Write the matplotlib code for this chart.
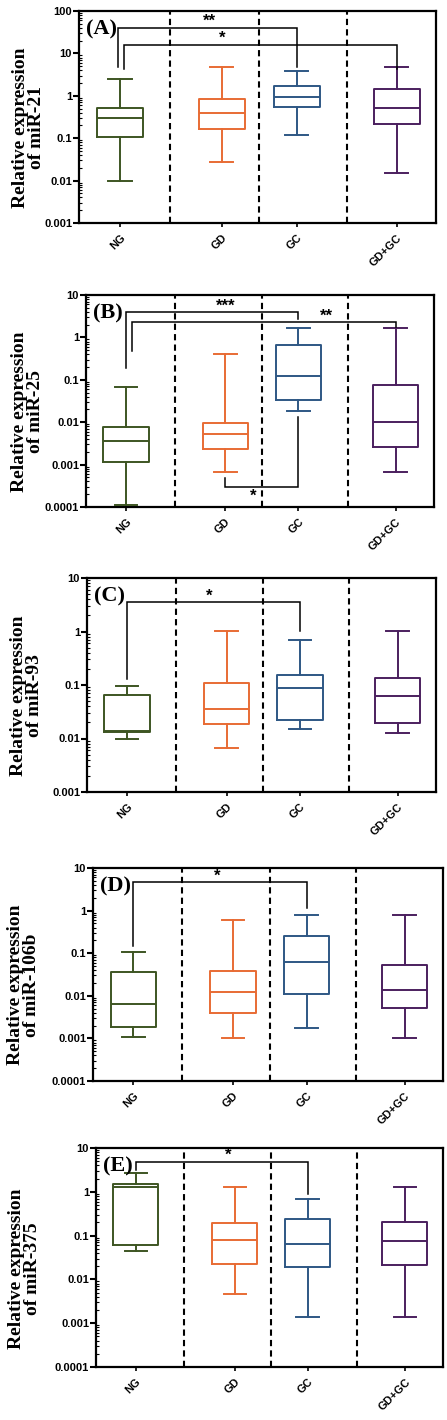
"""
Relative expression of five miRNAs across NG / GD / GC / GD+GC groups.
"""

import matplotlib
matplotlib.use("Agg")
import matplotlib.pyplot as plt
from matplotlib.ticker import FuncFormatter, LogLocator, NullFormatter


groups = ["NG", "GD", "GC", "GD+GC"]
colors = ["#3d5522", "#e86b34", "#2e5784", "#4b1f5e"]

mirnas = ["miR-21", "miR-25", "miR-93", "miR-106b", "miR-375"]
panel_tags = ["(A)", "(B)", "(C)", "(D)", "(E)"]

# five-number summaries per group: [whisker low, Q1, median, Q3, whisker high]
mir21 = [
    [0.010, 0.109, 0.30, 0.52, 2.43],
    [0.028, 0.163, 0.40, 0.82, 4.77],
    [0.120, 0.550, 0.96, 1.66, 3.90],
    [0.0148, 0.220, 0.52, 1.44, 4.77],
]
mir25 = [
    [0.00011, 0.00113, 0.0036, 0.0079, 0.067],
    [0.00067, 0.0023, 0.0053, 0.0098, 0.40],
    [0.018, 0.033, 0.126, 0.65, 1.63],
    [0.00067, 0.0026, 0.010, 0.075, 1.63],
]
mir93 = [
    [0.010, 0.013, 0.0136, 0.064, 0.094],
    [0.0067, 0.0183, 0.035, 0.107, 1.03],
    [0.0148, 0.0225, 0.087, 0.156, 0.69],
    [0.0126, 0.0194, 0.062, 0.137, 1.03],
]
mir106b = [
    [0.00105, 0.0019, 0.0063, 0.037, 0.107],
    [0.0010, 0.0040, 0.012, 0.039, 0.60],
    [0.0018, 0.011, 0.061, 0.26, 0.79],
    [0.0010, 0.0051, 0.0138, 0.053, 0.79],
]
mir375 = [
    [0.045, 0.060, 1.26, 1.52, 2.72],
    [0.0046, 0.022, 0.080, 0.19, 1.32],
    [0.00135, 0.019, 0.066, 0.236, 0.67],
    [0.00135, 0.021, 0.074, 0.20, 1.32],
]
all_stats = [mir21, mir25, mir93, mir106b, mir375]

y_limits = [(0.001, 100), (0.0001, 10), (0.001, 10), (0.0001, 10), (0.0001, 10)]

# significance brackets: (group a, group b, bar y, left leg end, right leg end, label, label x)
brackets = [
    [(0, 2, 40.0, 4.8, 4.8, "**", 3.65), (0, 3, 16.0, 4.4, 4.4, "*", 4.0)],
    [(0, 2, 3.9, 0.19, 2.7, "***", 4.0), (0, 3, 2.26, 0.48, 1.8, "**", 6.9),
     (1, 2, 0.00029, 0.00049, 0.0136, "*", 4.8)],
    [(0, 2, 3.5, 0.13, 1.04, "*", 3.5)],
    [(0, 2, 4.6, 0.148, 1.13, "*", 3.55)],
    [(0, 2, 4.9, 3.2, 0.87, "*", 3.8)],
]

# layout (pixels of the 447 x 1420 picture): left, right, top, bottom
W, H = 447, 1420
axes_px = [
    (79, 436, 11, 223),
    (86, 434, 295, 507),
    (87, 436, 578, 792),
    (93, 443, 868, 1081),
    (96, 443, 1148, 1367),
]
ylabel_right_px = [45, 44, 43, 40, 41]
x_pos = [1.15, 4.0, 6.1, 8.9]
separators = [2.55, 5.05, 7.52]
leg_offset = [[-0.05, 0.12], [0.0, 0.17], [0.0], [0.0], [0.0]]

sans = ["Liberation Sans", "DejaVu Sans"]
serif = ["Liberation Serif", "DejaVu Serif"]


def tick_label(v, _pos):
    return f"{v:g}"


fig = plt.figure(figsize=(W / 100, H / 100), dpi=100)

for i, stats in enumerate(all_stats):

    left, right, top, bottom = axes_px[i]
    ax = fig.add_axes([
        left / W,
        1 - bottom / H,
        (right - left) / W,
        (bottom - top) / H
    ])

    ax.set_yscale("log")
    ax.set_ylim(*y_limits[i])
    ax.set_xlim(0, 10)

    for s in separators:
        ax.axvline(s, color="black", lw=1.5, ls=(0, (3, 2)), zorder=1)

    for j, st in enumerate(stats):
        c = colors[j]
        ax.bxp(
            [dict(whislo=st[0], q1=st[1], med=st[2], q3=st[3],
                  whishi=st[4], fliers=[])],
            positions=[x_pos[j]],
            widths=1.3,
            capwidths=0.65,
            showfliers=False,
            boxprops=dict(color=c, lw=1.4),
            whiskerprops=dict(color=c, lw=1.4),
            capprops=dict(color=c, lw=1.4),
            medianprops=dict(color=c, lw=1.4),
            manage_ticks=False,
            zorder=3,
        )

    for k, (a, b, yb, yl, yr, lab, lx) in enumerate(brackets[i]):
        off = leg_offset[i][k] if k < len(leg_offset[i]) else 0.0
        xa = x_pos[a] + (off if a == 0 else 0.0)
        xb = x_pos[b]
        ax.plot([xa, xa, xb, xb], [yl, yb, yb, yr],
                color="black", lw=1.1, zorder=4, solid_joinstyle="miter")
        below = yl > yb
        ax.annotate(
            lab, xy=(lx, yb),
            xytext=(0, -1), textcoords="offset points",
            ha="center", va="top" if below else "bottom",
            fontsize=12, fontweight="bold", family=sans, zorder=5
        )

    ax.text(0.02, 0.96, panel_tags[i], transform=ax.transAxes,
            ha="left", va="top", fontsize=16, fontweight="bold",
            family=serif, zorder=6)

    ax.yaxis.set_major_locator(LogLocator(base=10, numticks=10))
    ax.yaxis.set_minor_locator(LogLocator(base=10, subs=range(2, 10), numticks=20))
    ax.yaxis.set_major_formatter(FuncFormatter(tick_label))
    ax.yaxis.set_minor_formatter(NullFormatter())
    ax.tick_params(axis="y", which="major", length=4, width=1.5, pad=1,
                   direction="out")
    ax.tick_params(axis="y", which="minor", length=2.5, width=0.8,
                   direction="in")

    ax.set_xticks(x_pos)
    ax.set_xticklabels(groups, rotation=45, ha="right",
                       rotation_mode="anchor")
    ax.tick_params(axis="x", length=3, width=1.2, pad=4)

    for lbl in ax.get_xticklabels() + ax.get_yticklabels():
        lbl.set_fontfamily(sans)
        lbl.set_fontweight("bold")
        lbl.set_fontsize(8)

    for sp in ax.spines.values():
        sp.set_linewidth(1.6)

    ax.set_ylabel(f"Relative expression\nof {mirnas[i]}",
                  fontsize=14, fontweight="bold", family=serif,
                  linespacing=0.92)
    ax.yaxis.set_label_coords((ylabel_right_px[i] - left) / (right - left), 0.45)

fig.savefig("out.png", dpi=100)
